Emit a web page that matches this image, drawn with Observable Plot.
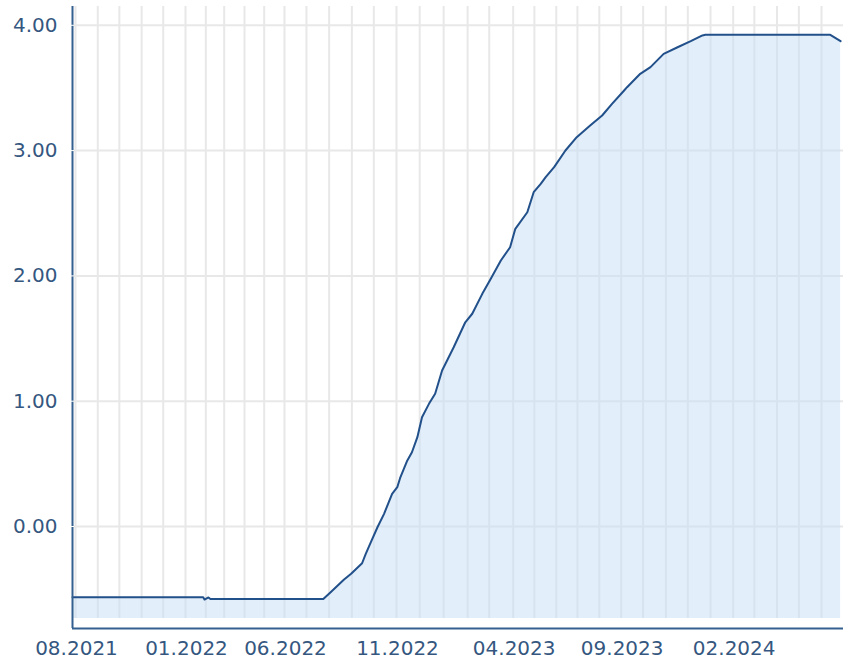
<!DOCTYPE html>
<html><head><meta charset="utf-8">
<script src="https://cdn.jsdelivr.net/npm/d3@7"></script>
<script src="https://cdn.jsdelivr.net/npm/@observablehq/plot@0.6"></script>
<style>html,body{margin:0;padding:0;background:#fff;} svg{display:block}</style>
</head><body><div id="chart"></div>
<script>
const dates = [
  "2021-07-28","2022-01-28","2022-01-30","2022-02-05","2022-02-08","2022-07-24",
  "2022-08-03","2022-08-21","2022-08-31","2022-09-15","2022-09-20","2022-09-27",
  "2022-10-06","2022-10-15","2022-10-26","2022-11-02","2022-11-06","2022-11-15",
  "2022-11-21","2022-11-28","2022-12-04","2022-12-13","2022-12-21","2022-12-30",
  "2023-01-14","2023-01-29","2023-02-07","2023-02-20","2023-03-03","2023-03-16",
  "2023-03-28","2023-04-04","2023-04-21","2023-04-30","2023-05-10","2023-05-17",
  "2023-05-29","2023-06-14","2023-06-30","2023-07-19","2023-08-05","2023-08-19",
  "2023-09-05","2023-09-09","2023-09-27","2023-10-11","2023-10-29","2023-11-17",
  "2023-12-05","2023-12-21","2023-12-25","2024-06-13","2024-06-27"
];
const values = [
  -0.564,-0.564,-0.583,-0.566,-0.578,-0.578,
  -0.524,-0.425,-0.377,-0.293,-0.218,-0.125,
  -0.006,0.101,0.261,0.314,0.393,0.527,
  0.593,0.713,0.872,0.979,1.059,1.245,
  1.431,1.630,1.698,1.857,1.977,2.123,
  2.229,2.376,2.508,2.668,2.735,2.788,
  2.868,3.001,3.107,3.200,3.280,3.373,
  3.480,3.506,3.613,3.666,3.772,3.825,
  3.873,3.919,3.924,3.924,3.873
];
const yTicks = [0, 1, 2, 3, 4];
const xTickLabels = ["08.2021","01.2022","06.2022","11.2022","04.2023","09.2023","02.2024"];
const xDomain = ["2021-07-28", "2024-07-01"];
const yDomain = [-0.734, 4.15];

const parse = d3.utcParse("%Y-%m-%d");
const data = dates.map((d, i) => ({date: parse(d), value: values[i]}));
const xTicks = xTickLabels.map(s => d3.utcParse("%m.%Y")(s));
const x0 = parse(xDomain[0]), x1 = parse(xDomain[1]);
const gridMonths = d3.utcMonth.range(d3.utcMonth.ceil(x0), x1);
const axisFloor = yDomain[0] - 10 * (yDomain[1] - yDomain[0]) / 612;

// the source axis is not uniform in calendar time: piecewise scale anchored on the labelled months
const xScaleDomain = [x0, ...xTicks, parse("2024-06-01"), x1];
const xScaleRange = [72, 75, 185, 284, 396, 512.7, 620.7, 732.7, 821, 843];

const axisColor = "#33608f";
const chart = Plot.plot({
  width: 843, height: 661,
  marginLeft: 72, marginRight: 0, marginTop: 6, marginBottom: 43,
  style: {fontFamily: "'DejaVu Sans', Verdana, sans-serif", fontSize: "20px", color: "#35577f", background: "white"},
  x: {type: "utc", domain: xScaleDomain, range: xScaleRange, label: null},
  y: {domain: yDomain, label: null},
  marks: [
    Plot.ruleX(gridMonths, {stroke: "#e8e8e8", strokeWidth: 2}),
    Plot.ruleY(yTicks, {stroke: "#e8e8e8", strokeWidth: 2}),
    Plot.areaY(data, {x: "date", y1: yDomain[0], y2: "value", fill: "#c5ddf3", fillOpacity: 0.5}),
    Plot.lineY(data, {x: "date", y: "value", stroke: "#22508a", strokeWidth: 2}),
    Plot.ruleX([x0], {y1: yDomain[1], y2: axisFloor, stroke: axisColor, strokeWidth: 2}),
    Plot.ruleY([axisFloor], {stroke: axisColor, strokeWidth: 2}),
    Plot.ruleY(yTicks, {x1: x0, x2: x0, insetLeft: -2, insetRight: -2, stroke: "white", strokeWidth: 1}),
    Plot.axisY({ticks: yTicks, tickSize: 0, tickPadding: 15, tickFormat: d => d.toFixed(2)}),
    Plot.axisX({ticks: xTicks, tickSize: 0, tickPadding: 22, dx: 1, tickFormat: d3.utcFormat("%m.%Y")})
  ]
});
document.getElementById("chart").appendChild(chart);
</script>
</body></html>
